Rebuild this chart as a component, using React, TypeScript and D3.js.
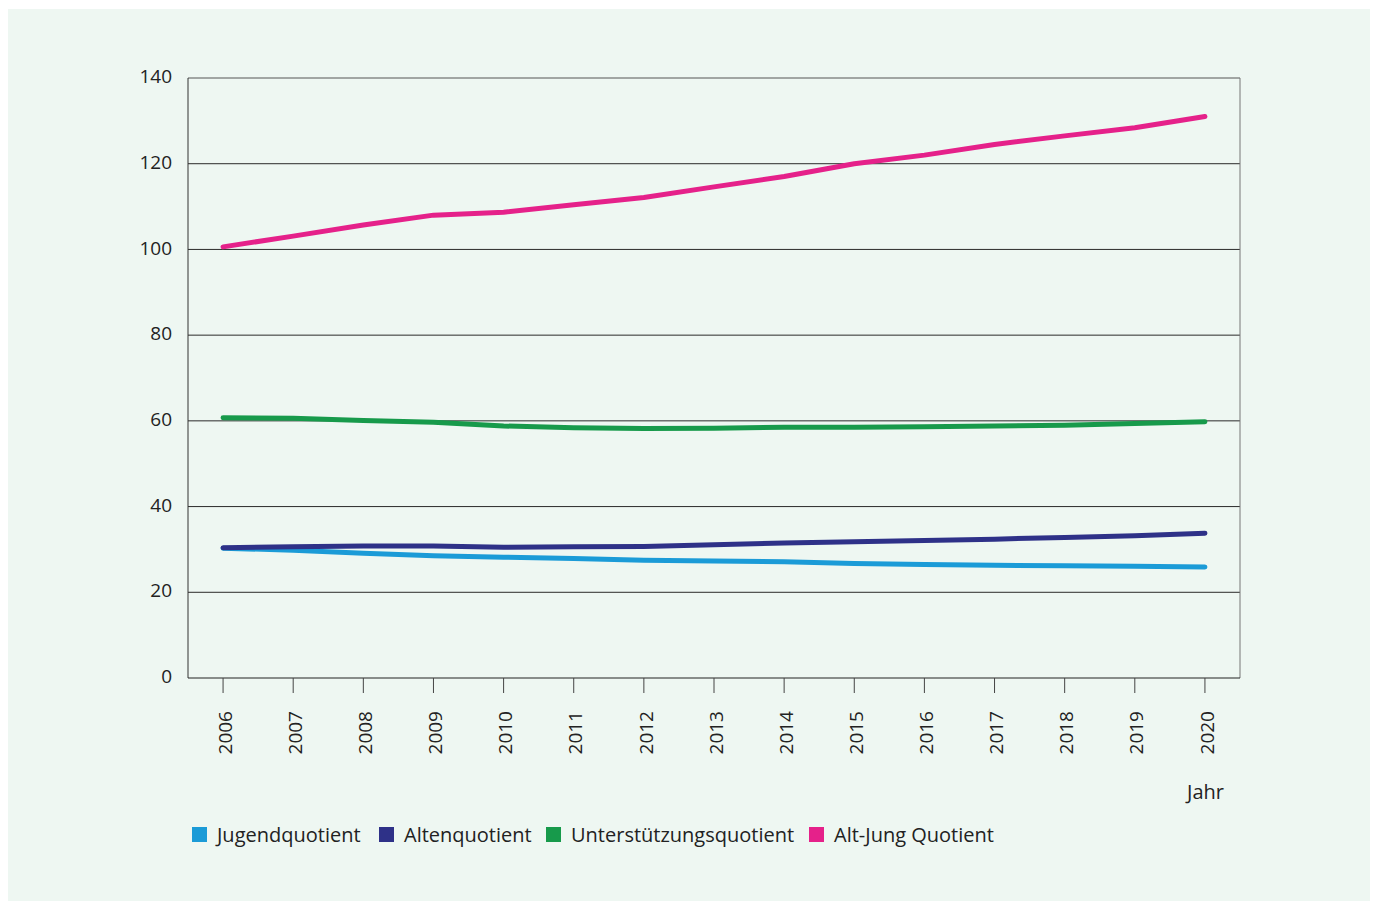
import React from 'react';
import * as d3 from 'd3';

const years = [2006, 2007, 2008, 2009, 2010, 2011, 2012, 2013, 2014, 2015, 2016, 2017, 2018, 2019, 2020];
const jugend = [30.3, 29.8, 29.1, 28.5, 28.2, 27.9, 27.5, 27.3, 27.1, 26.7, 26.5, 26.3, 26.2, 26.1, 25.9];
const alten = [30.4, 30.6, 30.8, 30.8, 30.5, 30.6, 30.7, 31.1, 31.5, 31.8, 32.1, 32.4, 32.8, 33.2, 33.8];
const unterstuetzung = [60.7, 60.6, 60.1, 59.7, 58.8, 58.4, 58.2, 58.3, 58.5, 58.5, 58.6, 58.8, 59.0, 59.4, 59.8];
const altJung = [100.6, 103.1, 105.7, 108.0, 108.7, 110.4, 112.1, 114.6, 117.0, 120.0, 122.0, 124.5, 126.5, 128.4, 131.0];
const yTicks = [0, 20, 40, 60, 80, 100, 120, 140];

const series = [
  { name: 'Jugendquotient', values: jugend, color: '#1b9bd7' },
  { name: 'Altenquotient', values: alten, color: '#2e3188' },
  { name: 'Unterstützungsquotient', values: unterstuetzung, color: '#179a4b' },
  { name: 'Alt-Jung Quotient', values: altJung, color: '#e5218a' },
];

const font = '"Open Sans", "Noto Sans", sans-serif';

const App: React.FC = () => {
  const width = 1375;
  const height = 904;
  const left = 188, right = 1240, top = 78, bottom = 678;

  const x = d3.scalePoint<number>().domain(years).range([left, right]).padding(0.5);
  const y = d3.scaleLinear().domain([0, 140]).range([bottom, top]);

  const line = d3.line<number>()
    .x((_, i) => x(years[i]) as number)
    .y(d => y(d));

  // legend positions
  const legendX = [192, 379, 546, 809];

  return (
    <svg width={width} height={height} style={{ position: 'absolute', left: 0, top: 0 }} fontFamily={font}>
      <rect x={8} y={9} width={1362} height={892} fill="#eef7f2" />

      {yTicks.filter(t => t > 0 && t < 140).map(t => (
        <line key={t} x1={left} x2={right} y1={y(t)} y2={y(t)} stroke="#2a2a2a" strokeWidth={1} />
      ))}
      <line x1={left} x2={right} y1={top} y2={top} stroke="#555" strokeWidth={1} />
      <line x1={right} x2={right} y1={top} y2={bottom} stroke="#777" strokeWidth={1} />
      <line x1={left} x2={left} y1={top} y2={bottom} stroke="#333" strokeWidth={1} />
      <line x1={left} x2={right} y1={bottom} y2={bottom} stroke="#222" strokeWidth={1} />

      {yTicks.map(t => (
        <text key={t} x={172} y={y(t) - 1.5} dy="0.35em" textAnchor="end" fontSize={19} fill="#222">{t}</text>
      ))}

      {years.map(yr => (
        <g key={yr} transform={`translate(${x(yr)},0)`}>
          <line y1={bottom} y2={bottom + 15} stroke="#444" strokeWidth={1} />
          <text transform={`translate(2,711) rotate(-90)`} dy="0.35em" textAnchor="end" fontSize={19} fill="#222">{yr}</text>
        </g>
      ))}

      <text x={1224} y={799} textAnchor="end" fontSize={20} fill="#222">Jahr</text>

      {series.map(s => (
        <path key={s.name} d={line(s.values) || ''} fill="none" stroke={s.color} strokeWidth={5} strokeLinecap="round" strokeLinejoin="round" />
      ))}

      {series.map((s, i) => (
        <g key={s.name} transform={`translate(${legendX[i]},827)`}>
          <rect width={15} height={15} fill={s.color} />
          <text x={25} y={15} fontSize={20} fill="#222">{s.name}</text>
        </g>
      ))}
    </svg>
  );
};

export default App;
